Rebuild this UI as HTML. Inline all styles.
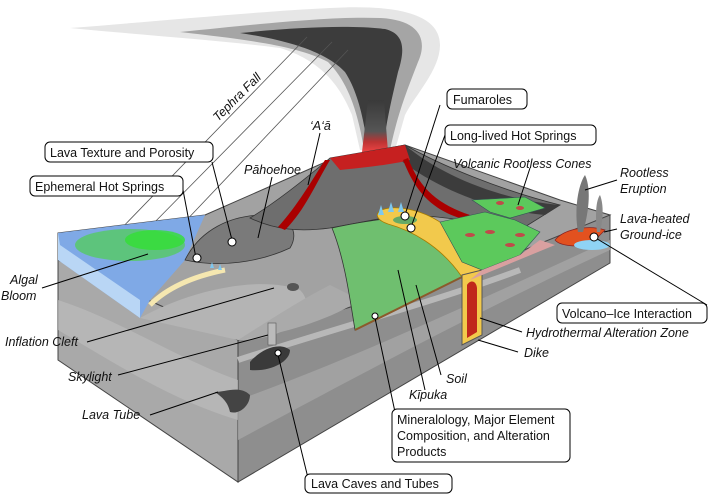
<!DOCTYPE html>
<html><head><meta charset="utf-8"><style>
html,body{margin:0;padding:0;background:#fff;}
svg{display:block;}
text{font-family:"Liberation Sans",sans-serif;font-size:12.5px;fill:#111;}
.i{font-style:italic;}
</style></head><body>
<svg width="712" height="494" viewBox="0 0 712 494" xmlns="http://www.w3.org/2000/svg">
<defs>
<linearGradient id="col" x1="0" y1="0" x2="0" y2="1"><stop offset="0" stop-color="#3a3a3a"/><stop offset="0.6" stop-color="#555"/><stop offset="0.8" stop-color="#b33"/><stop offset="1" stop-color="#e44"/></linearGradient>
</defs>
<!-- plume -->
<path d="M70,28 C150,22 250,12 330,8 C400,4 440,15 440,45 C440,70 415,95 405,115 L395,150 L360,150 L352,115 C340,85 320,60 280,48 C220,40 140,35 70,28Z" fill="#e6e6e6"/>
<path d="M180,32 C260,24 330,16 380,18 C420,20 428,40 418,62 C408,88 398,112 390,150 L364,150 C358,112 348,82 328,62 C298,46 250,40 180,32Z" fill="#a5a5a5"/>
<path d="M240,33 C300,27 350,25 385,29 C405,34 405,50 398,72 C392,98 386,122 383,150 L368,150 C364,120 358,92 345,72 C330,56 300,42 240,33Z" fill="#3c3c3c"/>
<path d="M368,100 L384,100 L388,152 L362,152Z" fill="url(#col)"/>
<!-- tephra lines -->
<g stroke="#555" stroke-width="0.8"><line x1="307" y1="37" x2="115" y2="235"/><line x1="332" y1="42" x2="147" y2="230"/><line x1="348" y1="50" x2="180" y2="227"/></g>
<!-- block faces -->
<polygon points="58,260 238,340 238,482 58,360" fill="#a9a9a9" stroke="#444" stroke-width="1"/>
<polygon points="238,340 610,215 610,263 238,482" fill="#8e8e8e" stroke="#444" stroke-width="1"/>
<path d="M58,300 C120,320 180,360 238,380 L238,420 C170,400 110,360 58,330Z" fill="#bcbcbc" opacity="0.7"/>
<path d="M238,400 C350,360 480,300 610,240 L610,250 C480,310 350,380 238,440Z" fill="#a6a6a6" opacity="0.8"/>
<path d="M238,360 C330,330 440,300 520,270" stroke="#b8b8b8" stroke-width="6" fill="none"/>
<!-- top surface -->
<polygon points="58,233 205,215 330,160 405,145 560,200 610,215 470,272 238,340 58,260" fill="#a2a2a2" stroke="#444"/>
<!-- water -->
<polygon points="58,233 205,215 185,260 150,300 140,318 58,260" fill="#7fa9e6"/>
<polygon points="58,233 58,260 140,318 140,300 60,245" fill="#b9d6f5"/>
<ellipse cx="130" cy="245" rx="55" ry="16" fill="#4fd04f" opacity="0.7"/>
<ellipse cx="155" cy="240" rx="30" ry="10" fill="#33e033" opacity="0.8"/>
<path d="M150,305 C170,285 200,275 225,270" stroke="#f5e7b0" stroke-width="5" fill="none"/>
<!-- grey lava lobes -->
<path d="M185,260 C200,230 230,215 265,215 C290,215 300,232 290,248 C260,262 220,268 185,260Z" fill="#7a7a7a" stroke="#333" stroke-width="0.8"/>
<path d="M140,318 C190,290 260,275 300,290 C320,310 290,340 238,340Z" fill="#b4b4b4"/>
<path d="M238,340 C270,320 300,300 330,285 L360,300 C330,320 280,335 238,340Z" fill="#aaa"/>
<!-- volcano -->
<path d="M250,218 C280,200 310,175 330,158 L405,145 C440,165 500,190 560,205 L520,230 C470,220 430,215 400,215 L330,228 C300,232 275,230 250,218Z" fill="#6e6e6e" stroke="#333" stroke-width="0.8"/>
<path d="M405,145 C440,175 500,200 560,205 L545,215 C490,210 440,190 400,160Z" fill="#3c3c3c"/>
<path d="M330,158 L405,145 L410,160 C390,165 360,168 340,170Z" fill="#c62020"/>
<path d="M330,160 C315,185 305,210 285,230 L278,227 C298,205 312,180 325,160Z" fill="#a00"/>
<path d="M408,158 C420,190 440,205 470,215 L466,220 C430,210 415,190 403,160Z" fill="#a00"/>
<!-- green field -->
<path d="M332,228 C360,222 380,219 398,218 C420,230 445,250 462,277 L355,330 C350,300 345,260 332,228Z" fill="#6fbf6f" stroke="#333" stroke-width="0.8"/>
<path d="M355,330 L462,277" stroke="#8b5a2b" stroke-width="2"/>
<!-- hydrothermal -->
<path d="M400,208 C375,206 370,218 388,224 C410,230 440,245 462,277 L482,270 C465,240 440,212 400,208Z" fill="#f2c94c" stroke="#a67c00" stroke-width="0.8"/>
<ellipse cx="405" cy="220" rx="12" ry="4" fill="#6a6"/>
<!-- dike -->
<polygon points="462,275 482,270 482,335 462,345" fill="#f2c94c" stroke="#555"/>
<path d="M467,285 C470,280 476,280 477,288 L477,332 L467,338Z" fill="#c0271b"/>
<!-- rootless cones -->
<path d="M440,222 L485,212 L515,220 L540,232 L520,255 L482,270 L462,262Z" fill="#5cc95c" stroke="#355" stroke-width="0.6"/>
<path d="M482,270 L520,255 L540,240 L555,245 L470,280Z" fill="#d9a0a0"/>
<path d="M472,200 L525,197 L545,208 L510,218 L490,212Z" fill="#5cc95c" stroke="#355" stroke-width="0.6"/>
<g fill="#c04a4a"><ellipse cx="490" cy="232" rx="5" ry="2"/><ellipse cx="510" cy="245" rx="5" ry="2"/><ellipse cx="470" cy="235" rx="5" ry="2"/><ellipse cx="520" cy="235" rx="5" ry="2"/><ellipse cx="500" cy="203" rx="4" ry="2"/><ellipse cx="520" cy="208" rx="4" ry="2"/></g>
<!-- right lava & ice -->
<path d="M555,240 C565,228 590,225 605,230 L590,245 C575,247 560,246 555,240Z" fill="#e2511f" stroke="#822" stroke-width="0.7"/>
<ellipse cx="592" cy="245" rx="18" ry="5" fill="#8fd3f5"/>
<path d="M578,232 C574,210 578,185 585,175 C592,190 588,215 583,232Z" fill="#777"/>
<path d="M597,232 C595,215 596,200 600,195 C604,205 603,220 600,232Z" fill="#888"/>
<!-- vents -->
<g fill="#7ec8f0"><path d="M378,215 l3,-10 l3,10z"/><path d="M388,212 l3,-10 l3,10z"/><path d="M398,212 l3,-10 l3,10z"/><path d="M210,268 l2,-6 l2,6z"/><path d="M218,270 l2,-6 l2,6z"/></g>
<!-- caves -->
<path d="M250,362 C262,348 280,342 290,350 C290,362 270,372 250,370Z" fill="#3a3a3a"/>
<rect x="268" y="323" width="8" height="22" fill="#bbb" stroke="#555" stroke-width="0.6"/>
<path d="M215,392 C225,392 240,385 250,395 C250,405 240,415 230,412 C228,402 222,397 215,392Z" fill="#444"/>
<ellipse cx="293" cy="287" rx="6" ry="4" fill="#555"/>
<!-- leader lines -->
<g stroke="#000" stroke-width="1" fill="none">
<line x1="212" y1="162" x2="232" y2="240"/>
<line x1="183" y1="190" x2="196" y2="258"/>
<line x1="272" y1="177" x2="258" y2="238"/>
<line x1="320" y1="133" x2="308" y2="185"/>
<line x1="440" y1="105" x2="405" y2="215"/>
<line x1="445" y1="135" x2="411" y2="227"/>
<line x1="530" y1="168" x2="518" y2="205"/>
<line x1="617" y1="180" x2="585" y2="190"/>
<line x1="617" y1="229" x2="604" y2="232"/>
<line x1="594" y1="237" x2="707" y2="305"/>
<line x1="522" y1="332" x2="480" y2="318"/>
<line x1="518" y1="352" x2="478" y2="340"/>
<line x1="42" y1="288" x2="148" y2="254"/>
<line x1="87" y1="342" x2="274" y2="288"/>
<line x1="118" y1="375" x2="268" y2="335"/>
<line x1="150" y1="415" x2="218" y2="392"/>
<line x1="441" y1="375" x2="416" y2="285"/>
<line x1="425" y1="390" x2="398" y2="270"/>
<line x1="395" y1="412" x2="375" y2="318"/>
<line x1="308" y1="478" x2="278" y2="355"/>
</g>
<g fill="#fff" stroke="#000" stroke-width="1">
<circle cx="232" cy="242" r="4"/><circle cx="197" cy="258" r="4"/><circle cx="405" cy="216" r="4"/><circle cx="411" cy="228" r="4"/><circle cx="594" cy="237" r="4"/><circle cx="375" cy="316" r="3"/><circle cx="278" cy="353" r="3"/>
</g>
<!-- label boxes -->
<g fill="#fff" stroke="#000" stroke-width="1">
<rect x="45" y="142" width="168" height="20" rx="5"/>
<rect x="30" y="176" width="153" height="20" rx="5"/>
<rect x="447" y="89" width="80" height="20" rx="5"/>
<rect x="445" y="125" width="151" height="20" rx="5"/>
<rect x="557" y="303" width="150" height="20" rx="5"/>
<rect x="392" y="409" width="178" height="53" rx="5"/>
<rect x="305" y="474" width="147" height="19" rx="5"/>
</g>
<text x="50" y="157">Lava Texture and Porosity</text>
<text x="35" y="191">Ephemeral Hot Springs</text>
<text x="453" y="104">Fumaroles</text>
<text x="450" y="140">Long-lived Hot Springs</text>
<text x="562" y="318">Volcano–Ice Interaction</text>
<text x="397" y="424">Mineralology, Major Element</text>
<text x="397" y="440">Composition, and Alteration</text>
<text x="397" y="456">Products</text>
<text x="311" y="488">Lava Caves and Tubes</text>
<text class="i" transform="translate(218,122) rotate(-45)">Tephra Fall</text>
<text class="i" x="310" y="130">‘A‘ā</text>
<text class="i" x="244" y="174">Pāhoehoe</text>
<text class="i" x="453" y="168">Volcanic Rootless Cones</text>
<text class="i" x="620" y="177">Rootless</text>
<text class="i" x="620" y="193">Eruption</text>
<text class="i" x="620" y="223">Lava-heated</text>
<text class="i" x="620" y="239">Ground-ice</text>
<text class="i" x="526" y="337">Hydrothermal Alteration Zone</text>
<text class="i" x="524" y="357">Dike</text>
<text class="i" x="10" y="284">Algal</text>
<text class="i" x="1" y="300">Bloom</text>
<text class="i" x="5" y="346">Inflation Cleft</text>
<text class="i" x="68" y="381">Skylight</text>
<text class="i" x="82" y="419">Lava Tube</text>
<text class="i" x="446" y="383">Soil</text>
<text class="i" x="409" y="399">Kīpuka</text>
</svg>
</body></html>
